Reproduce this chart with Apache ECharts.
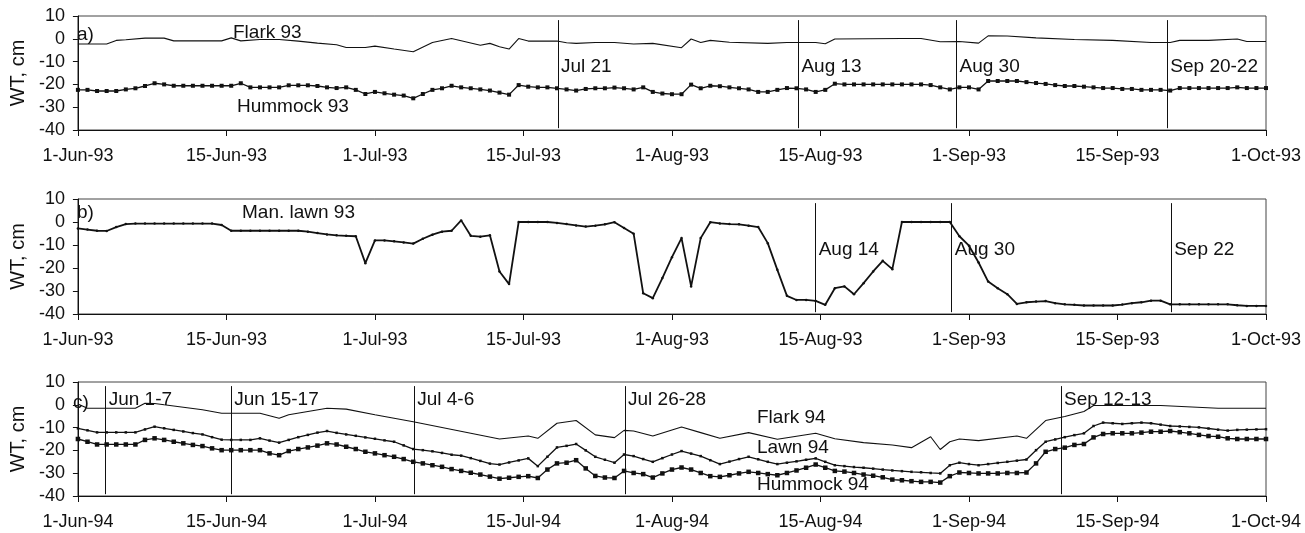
<!DOCTYPE html>
<html>
<head>
<meta charset="utf-8">
<script src="https://cdn.jsdelivr.net/npm/echarts@6/dist/echarts.min.js"></script>
<style>
  html, body { margin: 0; padding: 0; background: #fff; }
  #chart { width: 1305px; height: 533px; }
</style>
</head>
<body>
<div id="chart"></div>
<script>
// x = sample number from 1 Jun (one per day), tick labels spread evenly over the axis
const ticks93 = ['1-Jun-93', '15-Jun-93', '1-Jul-93', '15-Jul-93', '1-Aug-93', '15-Aug-93', '1-Sep-93', '15-Sep-93', '1-Oct-93'];
const ticks94 = ['1-Jun-94', '15-Jun-94', '1-Jul-94', '15-Jul-94', '1-Aug-94', '15-Aug-94', '1-Sep-94', '15-Sep-94', '1-Oct-94'];

// a) 1993 flark (line only, break points) and hummock (daily)
const flark93Day = [0, 3, 4, 5, 7, 9, 10, 15, 16, 17, 19, 21, 23, 25, 27, 28, 30, 31, 33, 35, 37, 39, 42, 43, 44, 45, 46, 47, 50, 51,
  52, 54, 56, 58, 60, 63, 64, 65, 66, 68, 72, 74, 77, 78, 79, 86, 88, 90, 92, 94, 95, 97, 100, 104, 108, 112, 114, 115, 118, 121, 122, 124];
const flark93WT = [-2.3, -2.3, -0.7, -0.4, 0.3, 0.3, -0.9, -0.9, 0.4, -0.9, -0.3, -0.3, -1, -1.9, -2.6, -3.8, -3.8, -3.2, -4.5, -5.7,
  -1.6, 0.1, -2.8, -2, -3.5, -4.5, 0.1, -1, -1, -1.7, -2, -1.6, -1.6, -2.3, -2, -3.9, -0.1, -1.6, -0.7, -1.5,
  -2, -1.6, -1.6, -2.2, -0.1, 0.1, 0.1, -1.3, -1.2, -1.9, 1.3, 1.2, 0.4, -0.3, -0.7, -1.6, -1.6, -0.7, -0.7, -0.1, -1.2, -1.2];
const hummock93WT = [
  -22.4, -22.4, -22.9, -22.9, -22.9, -22.2, -21.7, -20.7, -19.5, -20,
  -20.6, -20.6, -20.6, -20.6, -20.6, -20.6, -20.6, -19.5, -21.3, -21.3,
  -21.3, -21.3, -20.4, -20.4, -20.4, -20.7, -21.3, -21.6, -21.3, -22.4,
  -24.2, -23.3, -23.9, -24.5, -24.9, -26.1, -24.2, -22.4, -21.7, -20.6,
  -21.3, -21.7, -22.2, -22.7, -23.6, -24.5, -20.3, -21, -21.3, -21.3,
  -21.7, -22.2, -22.7, -22, -21.7, -21.7, -21.4, -21.7, -22.2, -21.3,
  -23.3, -24, -24.3, -24.3, -20.1, -21.7, -20.6, -20.8, -21.3, -21.7,
  -22.2, -23.3, -23.3, -22.4, -21.6, -21.7, -22.2, -23.3, -22.4, -19.7,
  -20, -20, -20, -20, -20, -20, -20, -20, -20, -20.3,
  -21.3, -22.2, -21.3, -21.3, -22.2, -18.5, -18.5, -18.5, -18.5, -19,
  -19.4, -19.8, -20.3, -20.7, -20.7, -21, -21.3, -21.6, -21.6, -22,
  -22, -22.4, -22.4, -22.4, -22.7, -21.6, -21.6, -21.6, -21.6, -21.6,
  -21.6, -21.3, -21.6, -21.6, -21.6];
const eventsA = ['Jul 21', 'Aug 13', 'Aug 30', 'Sep 20-22'];
const eventsADay = [50.1, 75.2, 91.7, 113.7];

// b) 1993 manipulated lawn (daily)
const lawn93WT = [
  -2.8, -3.3, -3.8, -3.9, -2.2, -0.9, -0.7, -0.7, -0.7, -0.7,
  -0.7, -0.7, -0.7, -0.7, -0.7, -1.3, -3.8, -3.8, -3.8, -3.8,
  -3.8, -3.8, -3.8, -3.8, -4.2, -4.8, -5.4, -5.8, -6, -6.2,
  -17.9, -8, -8, -8.4, -8.9, -9.4, -7.3, -5.5, -4.2, -3.8,
  0.7, -6, -6.4, -5.8, -21.5, -27, 0, 0, 0, 0,
  -0.4, -0.9, -1.5, -2, -1.6, -1, -0.1, -2.6, -5.1, -31,
  -33.1, -24.4, -15.3, -7, -28, -7, -0.1, -0.6, -0.9, -1,
  -1.6, -2.2, -9.2, -20.8, -32.1, -33.9, -33.9, -34.3, -36, -28.8,
  -28, -31.4, -26.6, -21.5, -16.9, -20.5, 0, 0, 0, 0,
  0, 0, -6.2, -10.3, -17.6, -25.9, -28.8, -31.4, -35.6, -34.9,
  -34.6, -34.4, -35.3, -35.8, -36, -36.3, -36.3, -36.3, -36.3, -35.9,
  -35.3, -34.9, -34.2, -34.2, -35.8, -35.8, -35.8, -35.8, -35.8, -35.8,
  -35.8, -36.2, -36.5, -36.5, -36.5];
const eventsB = ['Aug 14', 'Aug 30', 'Sep 22'];
const eventsBDay = [77.0, 91.2, 114.1];

// c) 1994 flark (break points), lawn and hummock (daily)
const flark94Day = [0, 1, 6, 7, 8, 9, 13, 15, 19, 21, 22, 26, 28, 31, 35, 41, 44, 47, 48, 50, 52, 54, 56, 57, 58, 60, 63, 65, 67, 70,
  73, 77, 79, 82, 85, 87, 89, 90, 91, 92, 94, 98, 99, 101, 103, 105, 106, 113, 119, 124];
const flark94WT = [0.4, -1.5, -1.5, 0.7, 0.6, 0, -2.2, -3.7, -3.7, -5.9, -4.4, -1.5, -1.9, -4.4, -7.4, -12.5, -15, -13.7, -14.7, -8.1,
  -6.9, -13.2, -14.4, -11.2, -11.5, -13.7, -9.7, -12.2, -14.7, -12.2, -15.1, -12.5, -14.9, -16.6, -17.6, -18.8, -14, -19.6, -16.2, -15,
  -15.7, -13.7, -14.7, -6.9, -5.1, -2.9, -0.3, -0.3, -1.5, -1.5];
const lawn94WT = [
  -10.3, -11.2, -12.1, -12.1, -12.1, -12.1, -12.1, -10.8, -9.6, -10.3,
  -11, -11.7, -12.4, -13, -14.2, -15.3, -15.4, -15.4, -15.4, -14.7,
  -15.7, -16.6, -15.4, -14.2, -13.2, -12.2, -11.5, -12.3, -13, -13.6,
  -14.3, -14.9, -15.6, -16.2, -17.8, -19.4, -19.9, -20.4, -21.1, -21.9,
  -22.3, -23.4, -24.6, -25.8, -26.2, -25.3, -24.4, -23.5, -26.9, -22.8,
  -18.7, -18, -17.2, -20, -22.8, -24.1, -25.4, -21.8, -22.5, -23.8,
  -25, -23.4, -21.8, -20.3, -21.4, -22.5, -24.3, -26, -24.9, -23.8,
  -22.8, -23.9, -25, -26, -25.4, -24.8, -24.1, -23.5, -25, -26.5,
  -26.9, -27.3, -27.6, -28, -28.4, -28.8, -29.1, -29.4, -29.6, -29.9,
  -30.1, -26.5, -25.4, -26, -26.5, -26, -25.5, -25, -24.5, -24,
  -19.9, -16.2, -15.2, -14.2, -13.3, -12.5, -9.3, -7.8, -8.1, -8.4,
  -8.1, -7.8, -8.1, -8.7, -9.3, -9.5, -9.7, -9.9, -10.4, -10.9,
  -11.3, -11, -10.9, -10.8, -10.7];
const hummock94WT = [
  -15, -16.2, -17.4, -17.4, -17.4, -17.4, -17.4, -15.4, -14.7, -15.4,
  -16.2, -16.9, -17.6, -18.1, -19.1, -19.9, -19.9, -19.9, -19.9, -19.9,
  -21.3, -22.1, -20.3, -19.4, -18.7, -17.9, -16.9, -17.4, -18.4, -19.4,
  -20.6, -21.3, -22.1, -22.8, -23.8, -25, -25.7, -26.5, -27.2, -28.2,
  -29, -29.8, -30.6, -31.5, -32.4, -32, -31.6, -31.3, -32.1, -28.4,
  -25.7, -25.4, -24.3, -27.9, -31.2, -31.9, -32.1, -29, -29.9, -30.4,
  -31.9, -30.1, -28.4, -27.5, -28.4, -29.9, -31.3, -31.6, -30.9, -30.1,
  -29.4, -29.9, -30.4, -30.9, -29.9, -28.8, -27.6, -26.2, -27.6, -29,
  -29.3, -29.9, -30.6, -31.1, -31.8, -32.8, -33.1, -33.5, -33.8, -33.8,
  -34.1, -31.3, -29.7, -29.9, -30.1, -30.1, -30.1, -29.9, -29.9, -29.7,
  -25.7, -20.6, -19.4, -18.8, -17.6, -17.2, -14.3, -12.8, -12.5, -12.5,
  -12.5, -12.2, -11.8, -11.8, -11.5, -12, -12.5, -13.2, -13.7, -14,
  -14.7, -15, -15, -15, -15];
const eventsC = ['Jun 1-7', 'Jun 15-17', 'Jul 4-6', 'Jul 26-28', 'Sep 12-13'];
const eventsCDay = [2.9, 16.0, 35.1, 57.1, 102.6];

const FONT = "'Liberation Sans', Arial, Helvetica, sans-serif";
const INK = '#111';
const X_MAX = 124;
const X_STEP = 15.5;

const chart = echarts.init(document.getElementById('chart'));

const daily = vals => vals.map((v, i) => [i, v]);
const pairs = (days, vals) => days.map((d, i) => [d, vals[i]]);

const xAxisFor = (idx, labels) => ({
    type: 'value', gridIndex: idx, min: 0, max: X_MAX, interval: X_STEP,
    axisLine: {onZero: false, lineStyle: {color: INK, width: 1}},
    axisTick: {show: true, length: 6, lineStyle: {color: INK}},
    splitLine: {show: false},
    axisLabel: {
        color: INK, fontSize: 18, fontFamily: FONT, margin: 17,
        showMinLabel: true, showMaxLabel: true,
        formatter: v => labels[Math.round(v / X_STEP)] || ''
    }
});

const yAxisFor = idx => ({
    type: 'value', gridIndex: idx, min: -40, max: 10, interval: 10,
    name: 'WT, cm', nameLocation: 'middle', nameGap: 46,
    nameTextStyle: {color: INK, fontSize: 20, fontFamily: FONT},
    axisLine: {show: true, onZero: false, lineStyle: {color: INK, width: 1}},
    axisTick: {show: true, length: 5, lineStyle: {color: INK}},
    splitLine: {show: false},
    axisLabel: {color: INK, fontSize: 18, fontFamily: FONT, margin: 13}
});

// vertical event lines with their dates written to the right
const eventMarks = (names, days, labelY) => ({
    markLine: {
        silent: true, symbol: ['none', 'none'], animation: false,
        lineStyle: {color: INK, width: 1, type: 'solid'},
        label: {show: false},
        data: days.map(d => [{coord: [d, 8.2]}, {coord: [d, -39.2]}])
    },
    markPoint: {
        silent: true, symbol: 'rect', symbolSize: 0, animation: false,
        label: {show: true, position: 'right', distance: 3, formatter: '{b}',
                color: INK, fontSize: 19, fontFamily: FONT},
        data: names.map((n, i) => ({name: n, coord: [days[i], labelY]}))
    }
});

const lineSeries = (idx, data, extra) => Object.assign({
    type: 'line', xAxisIndex: idx, yAxisIndex: idx, data: data,
    showSymbol: false, showAllSymbol: true, animation: false, silent: true,
    lineStyle: {color: INK, width: 1.1},
    itemStyle: {color: INK}
}, extra);

const grids = [
    {left: 71, right: 39, top: 16, height: 114},
    {left: 71, right: 39, top: 199, height: 115},
    {left: 71, right: 39, top: 382, height: 114}
].map(g => Object.assign({show: true, borderColor: '#444', borderWidth: 1, backgroundColor: 'transparent'}, g));

const txt = (text, left, top) => ({
    type: 'text', left: left, top: top, silent: true,
    style: {text: text, fill: INK, font: '19px ' + FONT}
});

const option = {
    animation: false,
    backgroundColor: '#fff',
    textStyle: {fontFamily: FONT},
    grid: grids,
    xAxis: [xAxisFor(0, ticks93), xAxisFor(1, ticks93), xAxisFor(2, ticks94)],
    yAxis: [yAxisFor(0), yAxisFor(1), yAxisFor(2)],
    series: [
        lineSeries(0, pairs(flark93Day, flark93WT), {name: 'Flark 93'}),
        lineSeries(0, daily(hummock93WT), Object.assign({
            name: 'Hummock 93', showSymbol: true, symbol: 'rect', symbolSize: 4,
            lineStyle: {color: INK, width: 1.3}
        }, eventMarks(eventsA, eventsADay, -12.3))),
        lineSeries(1, daily(lawn93WT), Object.assign({
            name: 'Man. lawn 93', showSymbol: true, symbol: 'circle', symbolSize: 2.5,
            lineStyle: {color: INK, width: 1.8}
        }, eventMarks(eventsB, eventsBDay, -12.2))),
        lineSeries(2, pairs(flark94Day, flark94WT), {name: 'Flark 94'}),
        lineSeries(2, daily(lawn94WT), {
            name: 'Lawn 94', showSymbol: true, symbol: 'rect', symbolSize: 2.5,
            lineStyle: {color: INK, width: 1.3}
        }),
        lineSeries(2, daily(hummock94WT), Object.assign({
            name: 'Hummock 94', showSymbol: true, symbol: 'rect', symbolSize: 4.5,
            lineStyle: {color: INK, width: 1.3}
        }, eventMarks(eventsC, eventsCDay, 2.2)))
    ],
    graphic: [
        txt('a)', 77, 25),
        txt('Flark 93', 233, 23),
        txt('Hummock 93', 237, 97),
        txt('b)', 77, 203),
        txt('Man. lawn 93', 242, 203),
        txt('c)', 73, 393),
        txt('Flark 94', 757, 408),
        txt('Lawn 94', 757, 438),
        txt('Hummock 94', 757, 475)
    ]
};

chart.setOption(option);
</script>
</body>
</html>
